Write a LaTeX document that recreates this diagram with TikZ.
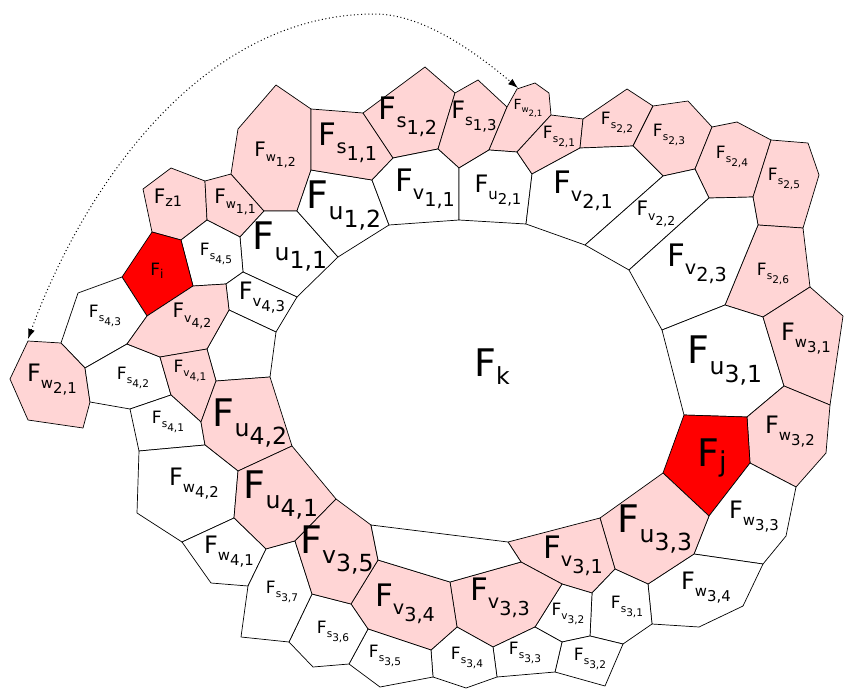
\documentclass[tikz,border=0pt]{standalone}
\usepackage{fontspec}
\setmainfont{DejaVu Sans}
\usepackage{graphicx}
\usetikzlibrary{arrows.meta}
\definecolor{cellpink}{RGB}{255,213,213}
\definecolor{cellred}{RGB}{255,0,0}
\newcommand\Fab[2]{F\raisebox{-0.27em}{\scalebox{0.62}{#1\raisebox{-0.37em}{#2}}}}
\newcommand\Fone[1]{F\raisebox{-0.15em}{\scalebox{0.72}{#1}}}
\newcommand\Fsm[1]{F\raisebox{-0.21em}{\scalebox{0.62}{#1}}}
\tikzset{
  cell/.style={draw=black, line width=0.7pt, line join=round},
  pinkcell/.style={cell, fill=cellpink},
  redcell/.style={cell, fill=cellred},
  whitecell/.style={cell, fill=white},
  lab/.style={inner sep=0pt, text=black},
  labXL/.style={lab, font=\fontsize{38}{40}\selectfont},
  labL/.style={lab, font=\fontsize{31}{33}\selectfont},
  labM/.style={lab, font=\fontsize{24}{26}\selectfont},
  labS/.style={lab, font=\fontsize{20}{22}\selectfont},
  labXS/.style={lab, font=\fontsize{17}{19}\selectfont},
  labXXS/.style={lab, font=\fontsize{14}{16}\selectfont},
  dotarrow/.style={line width=1pt, dash pattern=on 1pt off 2.6pt, {Latex[length=10pt,width=7pt]}-{Latex[length=10pt,width=7pt]}}
}
\begin{document}
\begin{tikzpicture}[x=1pt,y=-1pt]
\useasboundingbox (0,0) rectangle (845,688);
% ---------- left / top-left ----------
\path[pinkcell] (143,189) -- (171,168) -- (205,181) -- (207,220) -- (181,240) -- (152,232) -- cycle; % z1
\path[pinkcell] (205,181) -- (231,174) -- (264,211) -- (240,237) -- (207,220) -- cycle; % w11
\path[pinkcell] (238,129) -- (276,85) -- (311,109) -- (311,170) -- (297,211) -- (264,211) -- (231,174) -- cycle; % w12
\path[whitecell] (240,237) -- (264,211) -- (297,211) -- (338,257) -- (297,297) -- (243,272) -- cycle; % u11
\path[whitecell] (297,211) -- (311,170) -- (372,180) -- (389,225) -- (338,257) -- cycle; % u12
\path[whitecell] (181,240) -- (207,220) -- (240,237) -- (243,272) -- (226,284) -- (193,286) -- cycle; % s45
\path[redcell] (152,232) -- (181,240) -- (193,286) -- (147,316) -- (122,277) -- cycle; % Fi
\path[whitecell] (226,284) -- (243,272) -- (297,297) -- (276,332) -- (229,310) -- cycle; % v43
\path[whitecell] (229,310) -- (276,332) -- (270,377) -- (216,381) -- (207,349) -- cycle; % blank
\path[whitecell] (122,277) -- (147,316) -- (127,344) -- (85,368) -- (61,343) -- (78,293) -- cycle; % s43
\path[pinkcell] (61,343) -- (85,368) -- (90,402) -- (83,428) -- (28,420) -- (10,379) -- (28,341) -- cycle; % w21 left
\path[whitecell] (85,368) -- (127,344) -- (160,357) -- (171,395) -- (130,409) -- (90,402) -- cycle; % s42
\path[pinkcell] (147,316) -- (193,286) -- (226,284) -- (229,310) -- (207,349) -- (160,357) -- (127,344) -- cycle; % v42
\path[pinkcell] (160,357) -- (207,349) -- (216,381) -- (201,422) -- (171,395) -- cycle; % v41
\path[whitecell] (130,409) -- (171,395) -- (201,422) -- (205,445) -- (139,451) -- cycle; % s41
\path[pinkcell] (216,381) -- (270,377) -- (292,446) -- (238,471) -- (205,445) -- (201,422) -- cycle; % u42
\path[whitecell] (139,451) -- (205,445) -- (238,471) -- (234,518) -- (182,542) -- (137,513) -- cycle; % w42
\path[pinkcell] (238,471) -- (292,446) -- (336,499) -- (295,541) -- (266,549) -- (234,518) -- cycle; % u41
\path[whitecell] (182,542) -- (234,518) -- (266,549) -- (248,586) -- (211,583) -- cycle; % w41
% ---------- top ----------
\path[pinkcell] (311,109) -- (363,113) -- (393,158) -- (372,180) -- (311,170) -- cycle; % s11
\path[pinkcell] (363,113) -- (425,67) -- (455,93) -- (438,149) -- (393,158) -- cycle; % s12
\path[pinkcell] (455,93) -- (478,80) -- (507,107) -- (489,150) -- (459,168) -- (438,149) -- cycle; % s13
\path[whitecell] (372,180) -- (393,158) -- (438,149) -- (459,168) -- (459,220) -- (389,225) -- cycle; % v11
\path[pinkcell] (489,150) -- (507,107) -- (517,89) -- (535,83) -- (549,93) -- (551,115) -- (517,152) -- cycle; % w21 top
\path[whitecell] (459,168) -- (489,150) -- (517,152) -- (532,174) -- (526,224) -- (459,220) -- cycle; % u21
\path[pinkcell] (517,152) -- (551,115) -- (583,119) -- (580,148) -- (532,174) -- cycle; % s21
\path[pinkcell] (583,119) -- (627,89) -- (653,106) -- (633,146) -- (580,148) -- cycle; % s22
\path[pinkcell] (653,106) -- (688,101) -- (712,127) -- (695,169) -- (663,176) -- (633,146) -- cycle; % s23
\path[pinkcell] (712,127) -- (737,122) -- (771,140) -- (753,197) -- (709,198) -- (695,169) -- cycle; % s24
\path[pinkcell] (771,140) -- (808,143) -- (819,175) -- (803,228) -- (758,225) -- (753,197) -- cycle; % s25
\path[pinkcell] (758,225) -- (803,228) -- (810,287) -- (763,317) -- (725,305) -- cycle; % s26
\path[whitecell] (532,174) -- (580,148) -- (633,146) -- (663,176) -- (585,245) -- (526,224) -- cycle; % v21
\path[whitecell] (663,176) -- (695,169) -- (709,198) -- (629,270) -- (585,245) -- cycle; % v22
\path[whitecell] (709,198) -- (753,197) -- (758,225) -- (725,305) -- (662,330) -- (629,270) -- cycle; % v23
% ---------- right ----------
\path[whitecell] (662,330) -- (725,305) -- (763,317) -- (784,386) -- (747,417) -- (684,415) -- cycle; % u31
\path[pinkcell] (763,317) -- (810,287) -- (843,316) -- (830,405) -- (784,386) -- cycle; % w31
\path[pinkcell] (784,386) -- (830,405) -- (826,453) -- (796,487) -- (750,463) -- (747,417) -- cycle; % w32
\path[redcell] (684,415) -- (747,417) -- (750,463) -- (709,516) -- (663,473) -- cycle; % Fj
\path[whitecell] (750,463) -- (796,487) -- (786,536) -- (763,564) -- (694,554) -- (709,516) -- cycle; % w33
\path[whitecell] (694,554) -- (763,564) -- (743,606) -- (699,627) -- (652,624) -- (648,584) -- cycle; % w34
\path[pinkcell] (600,518) -- (663,473) -- (709,516) -- (694,554) -- (648,584) -- (615,569) -- cycle; % u33
% ---------- bottom ----------
\path[pinkcell] (508,542) -- (600,518) -- (615,569) -- (592,593) -- (562,584) -- (521,562) -- cycle; % v31
\path[whitecell] (592,593) -- (615,569) -- (648,584) -- (652,624) -- (623,644) -- (590,636) -- cycle; % s31
\path[whitecell] (562,584) -- (592,593) -- (590,636) -- (562,642) -- (535,627) -- cycle; % v32
\path[pinkcell] (450,582) -- (521,562) -- (562,584) -- (535,627) -- (493,647) -- (457,627) -- cycle; % v33
\path[whitecell] (562,642) -- (590,636) -- (623,644) -- (605,686) -- (555,672) -- cycle; % s32
\path[whitecell] (493,647) -- (535,627) -- (562,642) -- (555,672) -- (497,677) -- cycle; % s33
\path[whitecell] (457,627) -- (493,647) -- (497,677) -- (466,688) -- (433,677) -- (431,650) -- cycle; % s34
\path[pinkcell] (378,560) -- (450,582) -- (457,627) -- (431,650) -- (368,629) -- (351,604) -- cycle; % v34
\path[whitecell] (368,629) -- (431,650) -- (433,677) -- (380,687) -- (349,664) -- cycle; % s35
\path[whitecell] (312,594) -- (351,604) -- (368,629) -- (349,664) -- (313,667) -- (289,642) -- cycle; % s36
\path[whitecell] (266,549) -- (295,541) -- (312,594) -- (289,642) -- (241,637) -- (248,586) -- cycle; % s37
\path[pinkcell] (336,499) -- (371,525) -- (378,560) -- (351,604) -- (312,594) -- (295,541) -- cycle; % v35
\path[whitecell] (371,525) -- (508,542) -- (521,562) -- (450,582) -- (378,560) -- cycle; % blank bottom
% ---------- labels ----------
\node[labXL] (Fk) at (492,367) {\Fsm{k}};
\node[labS] (lw12) at (275,155) {\Fab{w}{1,2}};
\node[labL] (ls11) at (348,143) {\Fab{s}{1,1}};
\node[labL] (ls12) at (408,117) {\Fab{s}{1,2}};
\node[labM] (ls13) at (474,117) {\Fab{s}{1,3}};
\node[labXXS] (lw21t) at (528,108) {\Fab{w}{2,1}};
\node[labXL] (lu12) at (344,206) {\Fab{u}{1,2}};
\node[labL] (lv11) at (425,189) {\Fab{v}{1,1}};
\node[labM] (lu21) at (498,191) {\Fab{u}{2,1}};
\node[labS] (lw11) at (235,202) {\Fab{w}{1,1}};
\node[labS] (lz1) at (168,198) {\Fone{z1}};
\node[labXS] (ls45) at (216,254) {\Fab{s}{4,5}};
\node[labXS] (lFi) at (157,271) {\Fone{i}};
\node[labXL] (lu11) at (290,247) {\Fab{u}{1,1}};
\node[labM] (lv43) at (262,298) {\Fab{v}{4,3}};
\node[labXS] (ls43) at (105,316) {\Fab{s}{4,3}};
\node[labS] (lv42) at (192,316) {\Fab{v}{4,2}};
\node[labM] (lw21l) at (52,380) {\Fab{w}{2,1}};
\node[labXS] (ls42) at (133,378) {\Fab{s}{4,2}};
\node[labXS] (lv41) at (190,371) {\Fab{v}{4,1}};
\node[labXS] (ls41) at (168,422) {\Fab{s}{4,1}};
\node[labXL] (lu42) at (250,423) {\Fab{u}{4,2}};
\node[labM] (lw42) at (194,484) {\Fab{w}{4,2}};
\node[labXL] (lu41) at (281,495) {\Fab{u}{4,1}};
\node[labM] (lw41) at (229,552) {\Fab{w}{4,1}};
\node[labXL] (lv35) at (337,550) {\Fab{v}{3,5}};
\node[labXS] (ls37) at (282,592) {\Fab{s}{3,7}};
\node[labXS] (ls36) at (333,632) {\Fab{s}{3,6}};
\node[labXS] (ls35) at (385,656) {\Fab{s}{3,5}};
\node[labL] (lv34) at (405,604) {\Fab{v}{3,4}};
\node[labXS] (ls34) at (467,658) {\Fab{s}{3,4}};
\node[labL] (lv33) at (500,598) {\Fab{v}{3,3}};
\node[labXS] (ls33) at (525,653) {\Fab{s}{3,3}};
\node[labXS] (lv32) at (568,614) {\Fab{v}{3,2}};
\node[labXS] (ls32) at (590,659) {\Fab{s}{3,2}};
\node[labXS] (ls31) at (627,607) {\Fab{s}{3,1}};
\node[labL] (lv31) at (573,556) {\Fab{v}{3,1}};
\node[labXL] (lu33) at (655,529) {\Fab{u}{3,3}};
\node[labM] (lw34) at (706,588) {\Fab{w}{3,4}};
\node[labM] (lw33) at (754,517) {\Fab{w}{3,3}};
\node[labXL] (lFj) at (712,458) {\Fone{j}};
\node[labM] (lw32) at (790,432) {\Fab{w}{3,2}};
\node[labM] (lw31) at (806,339) {\Fab{w}{3,1}};
\node[labXL] (lu31) at (725,361) {\Fab{u}{3,1}};
\node[labL] (lv23) at (697,264) {\Fab{v}{2,3}};
\node[labS] (lv22) at (656,214) {\Fab{v}{2,2}};
\node[labL] (lv21) at (583,191) {\Fab{v}{2,1}};
\node[labXS] (ls26) at (773,274) {\Fab{s}{2,6}};
\node[labXS] (ls25) at (784,179) {\Fab{s}{2,5}};
\node[labXS] (ls24) at (732,157) {\Fab{s}{2,4}};
\node[labXS] (ls23) at (669,135) {\Fab{s}{2,3}};
\node[labXS] (ls22) at (617,123) {\Fab{s}{2,2}};
\node[labXS] (ls21) at (559,137) {\Fab{s}{2,1}};
% ---------- dotted double arrow ----------
\coordinate (arrL) at (28,339);
\coordinate (arrR) at (518,88);
\draw[dotarrow] (arrL) .. controls (79,199) and (195,14) .. (375,14) .. controls (425,14) and (480,56) .. (arrR);
\end{tikzpicture}
\end{document}
